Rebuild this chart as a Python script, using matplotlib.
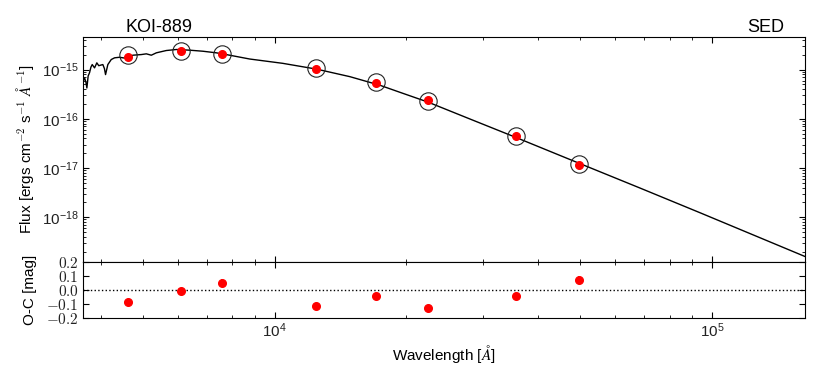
#imports
import numpy as np
import matplotlib
matplotlib.use('Agg')
import matplotlib.pyplot as plt
from matplotlib.ticker import FuncFormatter, LogLocator, MultipleLocator

plt.rcParams['font.family'] = ['Liberation Sans', 'DejaVu Sans']
plt.rcParams['mathtext.fontset'] = 'cm'

#data
# model spectrum
model_wave = [3641, 3660, 3675, 3700, 3720, 3745, 3773, 3800, 3826, 3873, 3920, 3960, 3991,
              4046, 4080, 4104, 4154, 4229, 4304, 4418, 4560, 4740, 4955, 5087, 5222,
              5362, 5650, 5958, 6390, 6853, 7355, 7889, 8765, 10430, 12477, 14846,
              17390, 19320, 22390, 27940, 35550, 49630, 68430, 93870, 163300]
model_flux = [5.36e-16, 6.2e-16, 6.77e-16, 5.6e-16, 4.23e-16, 7.4e-16, 8.69e-16, 1.12e-15,
              1.265e-15, 1.083e-15, 1.371e-15, 1.20e-15, 1.224e-15, 1.265e-15, 1.05e-15,
              7.91e-16, 1.265e-15, 1.60e-15, 1.734e-15, 1.78e-15, 1.70e-15, 1.96e-15,
              2.02e-15, 2.09e-15, 1.96e-15, 2.19e-15, 2.44e-15, 2.56e-15, 2.48e-15,
              2.36e-15, 2.19e-15, 1.96e-15, 1.64e-15, 1.34e-15, 1.02e-15, 7.19e-16,
              4.81e-16, 3.46e-16, 2.19e-16, 9.91e-17, 4.20e-17, 1.25e-17, 3.91e-18,
              1.23e-18, 1.58e-19]

# photometry
phot_wave = [4630, 6120, 7570, 12400, 17000, 22400, 35550, 49630]
phot_flux = [1.84e-15, 2.34e-15, 2.03e-15, 1.05e-15, 5.4e-16, 2.45e-16, 4.49e-17, 1.17e-17]
# synthetic model flux in the bands
synth_flux = [1.98e-15, 2.40e-15, 2.05e-15, 1.06e-15, 5.5e-16, 2.30e-16, 4.4e-17, 1.22e-17]

# residuals
resid = [-0.091, -0.010, 0.050, -0.119, -0.046, -0.131, -0.046, 0.071]
resid_err = [0.015, 0.015, 0.030, 0.012, 0.012, 0.012, 0.012, 0.025]

fig = plt.figure(figsize=(8.3, 3.74), dpi=100)
ax = fig.add_axes([0.0997, 0.300, 0.8705, 0.602])
ax2 = fig.add_axes([0.0997, 0.151, 0.8705, 0.149], sharex=ax)

ax.plot(model_wave, model_flux, color='black', lw=1.0, zorder=1)
ax.plot(phot_wave, synth_flux, 'o', mfc='none', mec='#222222', mew=0.8, ms=12.5, zorder=2)
ax.plot(phot_wave, phot_flux, 'o', color='red', ms=5.5, zorder=3)
ax.set_xscale('log')
ax.set_yscale('log')
ax.set_xlim(3640, 163300)
ax.set_ylim(1.24e-19, 4.67e-15)
ax.set_ylabel(r'Flux [ergs cm$^{-2}$ s$^{-1}$ $\AA^{-1}$]', fontsize=11)
ax.yaxis.set_major_locator(LogLocator(base=10, numticks=10))
ax.yaxis.set_minor_locator(LogLocator(base=10, subs=np.arange(2, 10), numticks=10))
ax.tick_params(labelbottom=False)
ax.text(0.105, 1.005, 'KOI-889', transform=ax.transAxes, ha='center', va='bottom', fontsize=13)
ax.text(0.971, 1.005, 'SED', transform=ax.transAxes, ha='right', va='bottom', fontsize=13)

ax2.axhline(0, color='black', ls=':', lw=1)
ax2.errorbar(phot_wave, resid, yerr=resid_err, fmt='o', color='red', ms=5.5,
             elinewidth=1.2, capsize=0)
ax2.set_ylim(-0.2, 0.2)
ax2.yaxis.set_major_locator(MultipleLocator(0.1))
ax2.yaxis.set_major_formatter(FuncFormatter(lambda v, p: r'$%.1f$' % v))
ax2.set_ylabel('O-C [mag]', fontsize=11)
ax2.set_xlabel(r'Wavelength [$\AA$]', fontsize=11, labelpad=2)

for a in (ax, ax2):
    a.tick_params(which='both', direction='in', top=True, right=True, labelsize=11,
                  pad=3, labelcolor='#222222')
    a.tick_params(which='major', length=4.5)
    a.tick_params(which='minor', length=2.2)

ax.yaxis.set_label_coords(-0.065, 0.5)
ax2.yaxis.set_label_coords(-0.063, 0.5)

plt.savefig('out.png', dpi=100)
